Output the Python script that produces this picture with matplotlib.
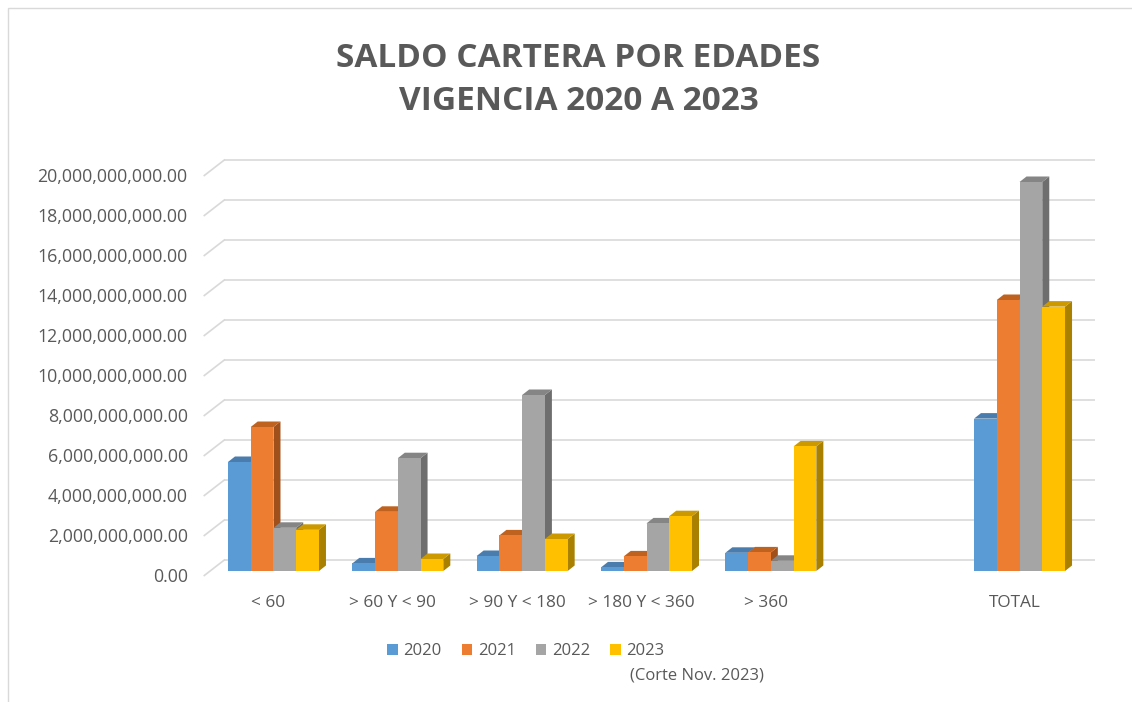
import numpy as np
import matplotlib
matplotlib.use("Agg")
import matplotlib.pyplot as plt
from matplotlib.patches import Polygon, Patch, Rectangle
from matplotlib.transforms import ScaledTranslation

plt.rcParams['font.family'] = ['Open Sans', 'DejaVu Sans']

# ---------------- data ----------------
categories = ["< 60", "> 60 Y < 90", "> 90 Y < 180", "> 180 Y < 360", "> 360", "", "TOTAL"]
series_names = ["2020", "2021", "2022", "2023"]
v2020 = [5.45e9, 0.38e9, 0.75e9, 0.18e9, 0.91e9, np.nan, 7.62e9]
v2021 = [7.20e9, 2.96e9, 1.78e9, 0.73e9, 0.93e9, np.nan, 13.55e9]
v2022 = [2.16e9, 5.64e9, 8.80e9, 2.38e9, 0.51e9, np.nan, 19.45e9]
v2023 = [2.06e9, 0.60e9, 1.60e9, 2.74e9, 6.23e9, np.nan, 13.22e9]
yticks = [0, 2e9, 4e9, 6e9, 8e9, 10e9, 12e9, 14e9, 16e9, 18e9, 20e9]
title = "SALDO CARTERA POR EDADES\nVIGENCIA 2020 A 2023"
note = "(Corte Nov. 2023)"

series = [v2020, v2021, v2022, v2023]
front_cols = ["#5B9BD5", "#ED7D31", "#A5A5A5", "#FFC000"]
top_cols = ["#4A7DAE", "#C0621F", "#858585", "#CC9A00"]
side_cols = ["#3F6C97", "#A0501A", "#6E6E6E", "#A98000"]

W, H = 1132, 702
fig = plt.figure(figsize=(W / 100, H / 100), dpi=100)
fig.patch.set_facecolor("white")

# chart border (top and left visible)
fig.add_artist(Rectangle((8 / W, -0.1), 1.2, 1 - 8 / H + 0.1, transform=fig.transFigure,
                         fill=False, edgecolor="#D9D9D9", linewidth=1.0))

ax_l, ax_r = 211.3, 1081.7
ax_b, ax_t = 571.0, 171.0
ax = fig.add_axes([ax_l / W, 1 - ax_b / H, (ax_r - ax_l) / W, (ax_b - ax_t) / H])
ax.set_xlim(-0.5, len(categories) - 0.5)
ax.set_ylim(0, 20e9)
for s in ax.spines.values():
    s.set_visible(False)
ax.set_facecolor("none")

pxx = (len(categories)) / (ax_r - ax_l)   # data units per pixel (x)
pxy = 20e9 / (ax_b - ax_t)                 # data units per pixel (y)

# back-wall gridlines and left-wall slants
gdx, gdy = 13 * pxx, 11 * pxy
fdx, fdy = -7 * pxx, -4.5 * pxy
x_left = -0.5
x_right = len(categories) - 0.5
for v in yticks:
    ax.plot([x_left + gdx, x_right + gdx], [v + gdy, v + gdy], color="#D9D9D9",
            lw=1.2, clip_on=False, zorder=1, solid_capstyle="butt")
    ax.plot([x_left + fdx, x_left + gdx], [v + fdy, v + gdy], color="#D9D9D9",
            lw=1.2, clip_on=False, zorder=1)

# 3D-looking columns
bw = 22.75 * pxx
gw = bw * len(series)
ddx, ddy = 7 * pxx, 5.5 * pxy
z = 3
for i in range(len(categories)):
    for j, vals in enumerate(series):
        v = vals[i]
        if np.isnan(v):
            continue
        x0 = i - gw / 2 + j * bw
        x1 = x0 + bw
        side = Polygon([(x1, 0), (x1 + ddx, ddy), (x1 + ddx, v + ddy), (x1, v)],
                       closed=True, facecolor=side_cols[j], edgecolor="none", zorder=z)
        top = Polygon([(x0, v), (x0 + ddx, v + ddy), (x1 + ddx, v + ddy), (x1, v)],
                      closed=True, facecolor=top_cols[j], edgecolor="none", zorder=z + 0.1)
        ax.add_patch(side)
        ax.add_patch(top)
        ax.bar(x0 + bw / 2, v, width=bw, color=front_cols[j], zorder=z + 0.2,
               linewidth=0, clip_on=False)
        z += 1

# axes ticks
ax.set_yticks(yticks)
ax.set_yticklabels([f"{t:,.2f}" for t in yticks])
ax.set_xticks(range(len(categories)))
ax.set_xticklabels(categories)
ax.tick_params(axis="y", length=0, pad=17, labelsize=12.8, labelcolor="#595959")
ax.tick_params(axis="x", length=0, pad=17, labelsize=12.4, labelcolor="#595959")
off_y = ScaledTranslation(0, -4.5 / 100, fig.dpi_scale_trans)
for lab in ax.get_yticklabels():
    lab.set_transform(lab.get_transform() + off_y)
off_x = ScaledTranslation(-5 / 100, 0, fig.dpi_scale_trans)
for lab in ax.get_xticklabels():
    lab.set_transform(lab.get_transform() + off_x)

# title
fig.text(578.5 / W, 1 - 80 / H, title, ha="center", va="center", fontsize=24,
         fontweight="bold", color="#595959", linespacing=1.39)

# legend
handles = [Patch(facecolor=c, edgecolor="none", label=n) for c, n in zip(front_cols, series_names)]
fig.legend(handles=handles, loc="center", bbox_to_anchor=(526 / W, 1 - 651 / H), ncol=4,
           frameon=False, fontsize=12, handlelength=0.62, handleheight=0.62,
           handletextpad=0.35, columnspacing=1.2, labelcolor="#595959", borderaxespad=0)
fig.text(697 / W, 1 - 675 / H, note, ha="center", va="center", fontsize=12, color="#595959")

fig.savefig("out.png", dpi=100, facecolor="white")
